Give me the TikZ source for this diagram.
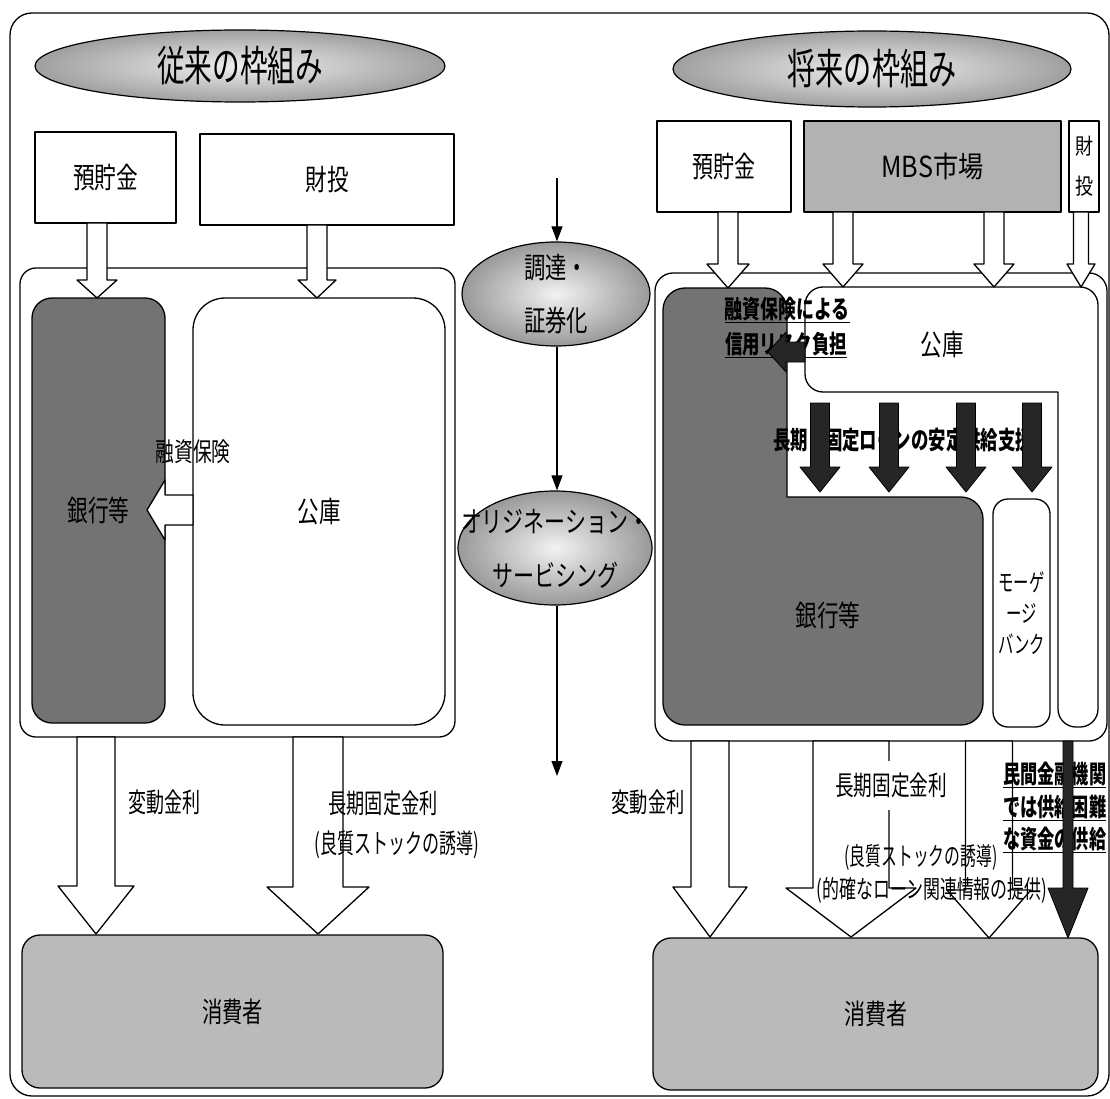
\documentclass[tikz,border=0pt]{standalone}
\usepackage{fontspec}
\setmainfont{Noto Sans CJK JP}
\usepackage{graphicx}
\usetikzlibrary{shapes.geometric,arrows.meta}
\newcommand{\fw}[2]{\resizebox{#1pt}{\height}{#2}}
\newcommand{\sx}[2]{\scalebox{#1}[1]{#2}}
\newcommand{\varr}[7]{\draw[#1] ({#2-#6},#3) -- ({#2-#6},#4) -- ({#2-#7},#4) -- (#2,#5) -- ({#2+#7},#4) -- ({#2+#6},#4) -- ({#2+#6},#3) -- cycle;}
\colorlet{bankgray}{black!55}
\colorlet{softgray}{black!27}
\colorlet{mbsgray}{black!30}
\tikzset{
  ln/.style={line width=1.3pt},
  sqbox/.style={draw, ln, fill=white, inner sep=0pt},
  harr/.style={draw, ln, fill=white},
  barr/.style={draw=black, line width=0.8pt, fill=black!85},
  ttl/.style={ellipse, draw, line width=1.2pt, inner color=gray!12, outer color=gray!75, inner sep=0pt, font=\fontsize{42}{48}\selectfont},
  midell/.style={ellipse, draw, line width=1.2pt, inner color=gray!10, outer color=gray!80, inner sep=0pt},
  t29/.style={inner sep=0pt, font=\fontsize{29}{34}\selectfont},
  t27/.style={inner sep=0pt, font=\fontsize{27}{32}\selectfont},
  t25/.style={inner sep=0pt, font=\fontsize{25}{30}\selectfont},
  tb25/.style={inner sep=0pt, font=\fontsize{25}{30}\selectfont\bfseries},
  thinarr/.style={line width=1.1pt, -{Triangle[length=15pt,width=11pt]}},
}
\begin{document}
\begin{tikzpicture}[x=1pt,y=-1pt,line join=round]
\useasboundingbox (0,0) rectangle (1110,1099);
% outer frame
\draw[ln, rounded corners=22] (10,13) rectangle (1109,1096);

% titles
\node[ttl, minimum width=410pt, minimum height=72pt] (lt) at (240,66) {\fw{166}{従来の枠組み}};
\node[ttl, minimum width=398pt, minimum height=76pt] (rt) at (872,69) {\fw{169}{将来の枠組み}};

% ===== left =====
\node[sqbox, minimum width=141pt, minimum height=91pt, font=\fontsize{29}{34}\selectfont] (lyc) at (105.5,177.5) {\fw{65}{預貯金}};
\node[sqbox, minimum width=254pt, minimum height=91pt, font=\fontsize{29}{34}\selectfont] (lzt) at (327,179.5) {\fw{43}{財投}};
\draw[ln, rounded corners=16] (20,268) rectangle (455,737);
\node[draw, ln, fill=bankgray, rounded corners=20, minimum width=133pt, minimum height=425pt, font=\fontsize{29}{34}\selectfont] (lbank) at (98.5,510.5) {\fw{62}{銀行等}};
\node[draw, ln, fill=white, rounded corners=32, minimum width=252pt, minimum height=427pt, font=\fontsize{29}{34}\selectfont] (lkoko) at (319,511.5) {\fw{43}{公庫}};
\varr{harr}{97}{223}{280}{298}{10}{20}
\varr{harr}{317}{225}{280}{298}{10}{19}
\draw[harr] (193,495) -- (165,495) -- (165,480) -- (147,510) -- (165,540) -- (165,525) -- (193,525) -- cycle;
\node[inner sep=0pt, font=\fontsize{26}{30}\selectfont] (lyh) at (193,452) {\fw{75}{融資保険}};
% left consumers
\node[draw, ln, fill=softgray, rounded corners=18, minimum width=421pt, minimum height=153pt, font=\fontsize{28}{34}\selectfont] (lcons) at (232.5,1011.5) {\fw{61}{消費者}};
\varr{harr}{96}{737}{886}{934}{19}{38}
\varr{harr}{318}{737}{887}{934}{25}{51}
\node[t27] (lhd) at (164,802) {\fw{72}{変動金利}};
\node[t27] (lck) at (383,803) {\fw{109}{長期固定金利}};
\node[t27] (lrs) at (397,845) {\fw{165}{(良質ストックの誘導)}};

% ===== middle =====
\coordinate (mtop) at (557,178);
\node[midell, minimum width=188pt, minimum height=104pt] (e1) at (556,294) {};
\node[t29] (e1a) at (556,268) {\fw{64}{調達・}};
\node[t29] (e1b) at (556,320) {\fw{64}{証券化}};
\node[midell, minimum width=194pt, minimum height=114pt] (e2) at (555,548) {};
\node[t29] (e2a) at (555,522) {\fw{188}{オリジネーション・}};
\node[t29] (e2b) at (555,575) {\fw{126}{サービシング}};
\coordinate (mbot) at (557,776);
\draw[thinarr] (mtop) -- (mtop |- e1.north);
\draw[thinarr] (mtop |- e1.south) -- (mtop |- e2.north);
\draw[thinarr] (mtop |- e2.south) -- (mbot);

% ===== right =====
\node[sqbox, minimum width=134pt, minimum height=91pt, font=\fontsize{29}{34}\selectfont] (ryc) at (724,166.5) {\fw{63}{預貯金}};
\node[sqbox, fill=mbsgray, minimum width=257pt, minimum height=91pt, font=\fontsize{29}{34}\selectfont] (rmbs) at (932.5,166.5) {\fw{102}{MBS市場}};
\node[sqbox, minimum width=30pt, minimum height=91pt, align=center, font=\fontsize{22}{40}\selectfont] (rzt) at (1084,166.5) {\fw{18}{財}\\\fw{18}{投}};
\draw[ln, rounded corners=18] (655,273) rectangle (1107,741);
% bank (L shape)
\filldraw[ln, fill=bankgray] (663,310) arc[start angle=180, end angle=270, radius=22] -- (765,288) arc[start angle=270, end angle=360, radius=22] -- (787,497) -- (961,497) arc[start angle=270, end angle=360, radius=22] -- (983,703) arc[start angle=0, end angle=90, radius=22] -- (685,725) arc[start angle=90, end angle=180, radius=22] -- cycle;
% koko (inverted L)
\filldraw[ln, fill=white] (805,305) arc[start angle=180, end angle=270, radius=18] -- (1080,287) arc[start angle=270, end angle=360, radius=18] -- (1098,709) arc[start angle=0, end angle=90, radius=18] -- (1076,727) arc[start angle=90, end angle=180, radius=18] -- (1058,392) -- (823,392) arc[start angle=90, end angle=180, radius=18] -- cycle;
\node[draw, ln, fill=white, rounded corners=15, minimum width=57pt, minimum height=228pt, align=center, font=\fontsize{24}{31}\selectfont] (rmort) at (1021.5,613) {\sx{0.64}{モーゲ}\\\sx{0.64}{ージ}\\\sx{0.64}{バンク}};
% top arrows
\varr{harr}{728}{212}{264}{288}{10}{21}
\varr{harr}{843}{212}{264}{287}{10}{20}
\varr{harr}{994}{212}{264}{287}{10}{20}
\varr{harr}{1081}{212}{264}{287}{7.5}{14}
% labels
\node[t29] (rkl) at (942,345) {\fw{43}{公庫}};
\node[t29] (rbl) at (828,615) {\fw{65}{銀行等}};
\node[tb25] (ryh1) at (787,310) {\underline{\fw{125}{融資保険による}}};
\node[tb25] (ryh2) at (786,345) {\underline{\fw{122}{信用リスク負担}}};
\node[tb25] (rsup) at (903,440) {\fw{260}{長期・固定ローンの安定供給支援}};
% black arrows
\fill[barr] (805,342) -- (786,342) -- (786,332) -- (768,352) -- (786,372) -- (786,362) -- (805,362) -- cycle;
\varr{barr}{820}{403}{467}{492}{9.5}{20}
\varr{barr}{889}{403}{467}{492}{9.5}{20}
\varr{barr}{966}{403}{467}{492}{9.5}{20}
\varr{barr}{1032}{403}{467}{492}{9.5}{20}
% right consumers and bottom arrows
\node[draw, ln, fill=softgray, rounded corners=18, minimum width=445pt, minimum height=152pt, font=\fontsize{28}{34}\selectfont] (rcons) at (875.5,1014) {\fw{63}{消費者}};
\varr{harr}{710}{741}{887}{937}{19}{37}
\varr{harr}{851}{741}{888}{937}{38}{65}
\varr{harr}{989}{741}{890}{938}{23.5}{42}
\node[t27] (rhd) at (648,802) {\fw{73}{変動金利}};
\node[t27, fill=white, inner xsep=3pt, inner ysep=12pt] (rck) at (891,785) {\fw{112}{長期固定金利}};
\node[t25] (rrs) at (921,857) {\fw{153}{(良質ストックの誘導)}};
\node[t25] (rjh) at (932,890) {\fw{231}{(的確なローン関連情報の提供)}};
\node[tb25, anchor=west] (rm1) at (1003,775) {\underline{\fw{103}{民間金融機関}}};
\node[tb25, anchor=west] (rm2) at (1003,808) {\underline{\fw{103}{では供給困難}}};
\node[tb25, anchor=west] (rm3) at (1003,840) {\underline{\fw{103}{な資金の供給}}};
\varr{barr}{1068}{741}{888}{938}{5}{20}
\end{tikzpicture}
\end{document}
